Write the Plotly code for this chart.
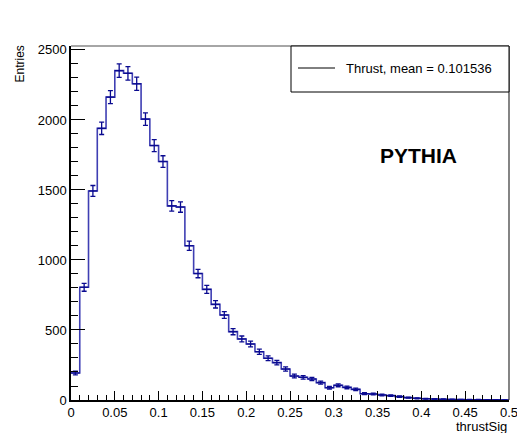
import numpy as np
import plotly.graph_objects as go

# ---- data ----
bin_width = 0.01
bin_low = [round(i * bin_width, 2) for i in range(50)]
counts = [193, 805, 1493, 1940, 2163, 2352, 2333, 2258, 2006, 1817,
          1703, 1386, 1378, 1102, 903, 790, 683, 607, 488, 436,
          400, 345, 298, 267, 221, 171, 162, 150, 124, 88,
          105, 90, 76, 45, 43, 36, 31, 24, 17, 12,
          9, 7, 5, 4, 3, 2, 2, 1, 1, 0]
x_tickvals = [0, 0.05, 0.1, 0.15, 0.2, 0.25, 0.3, 0.35, 0.4, 0.45, 0.5]
x_ticktext = ["0", "0.05", "0.1", "0.15", "0.2", "0.25", "0.3", "0.35", "0.4", "0.45", "0.5"]
y_tickvals = [0, 500, 1000, 1500, 2000, 2500]
y_ticktext = ["0", "500", "1000", "1500", "2000", "2500"]
legend_label = "Thrust, mean = 0.101536"
tag_label = "PYTHIA"

# ---- derived ----
edges = bin_low + [bin_low[-1] + bin_width]
centers = [b + bin_width / 2 for b in bin_low]
errs = np.sqrt(np.array(counts, dtype=float))
step_y = counts + [counts[-1]]

FONT = "Liberation Sans, Arial, Helvetica, sans-serif"

fig = go.Figure()
fig.add_trace(go.Scatter(
    x=edges, y=step_y, mode="lines", line_shape="hv",
    line=dict(color="rgba(15,15,160,0.8)", width=1.6),
    hoverinfo="skip", showlegend=False))
fig.add_trace(go.Scatter(
    x=centers, y=counts, mode="markers",
    marker=dict(size=1, color="#0a0a90"),
    error_y=dict(type="data", array=errs, visible=True, color="#0a0a90", thickness=1.3, width=2.5),
    error_x=dict(type="data", array=[bin_width / 2] * len(centers), visible=True, color="#0a0a90", thickness=1.3, width=0),
    showlegend=False))

W, H = 517, 433
L, R, T, B = 71, 8, 46, 33
pw, ph = W - L - R, H - T - B

def px(xp):
    return (xp - L) / pw

def py(yp):
    return (H - B - yp) / ph

fig.update_layout(
    width=W, height=H,
    margin=dict(l=L, r=R, t=T, b=B, autoexpand=False),
    paper_bgcolor="white", plot_bgcolor="white",
    font=dict(family=FONT, color="black", size=13),
    xaxis=dict(range=[0, 0.5], showgrid=False, zeroline=False, automargin=False,
               showline=True, linecolor="black", linewidth=1.5,
               ticks="inside", ticklen=9, tickwidth=1, tickcolor="black",
               tickvals=x_tickvals, ticktext=x_ticktext,
               ticklabeloverflow="allow",
               minor=dict(ticks="inside", dtick=0.01, ticklen=5, tickcolor="black", tickwidth=1),
               tickfont=dict(size=13)),
    yaxis=dict(range=[0, 2528], showgrid=False, zeroline=False, automargin=False,
               showline=True, linecolor="black", linewidth=1.5,
               ticks="inside", ticklen=14, tickwidth=1, tickcolor="black",
               tickvals=y_tickvals, ticktext=y_ticktext,
               ticklabeloverflow="allow",
               minor=dict(ticks="inside", dtick=100, ticklen=7, tickcolor="black", tickwidth=1),
               tickfont=dict(size=13)),
    shapes=[
        dict(type="line", xref="paper", yref="paper", x0=0, x1=1, y0=1, y1=1,
             line=dict(color="#888888", width=1.5)),
        dict(type="line", xref="paper", yref="paper", x0=1, x1=1, y0=0, y1=1,
             line=dict(color="#333333", width=1.2)),
        dict(type="rect", xref="paper", yref="paper", x0=px(291), x1=1.0, y0=py(92), y1=1.0,
             line=dict(color="black", width=1), fillcolor="white", layer="above"),
        dict(type="line", xref="paper", yref="paper", x0=px(298), x1=px(335), y0=py(68), y1=py(68),
             line=dict(color="black", width=1)),
    ],
    annotations=[
        dict(text=legend_label, xref="paper", yref="paper", x=px(344), y=py(68),
             xanchor="left", yanchor="middle", showarrow=False, font=dict(size=13)),
        dict(text="<b>" + tag_label + "</b>", xref="paper", yref="paper", x=px(418), y=py(155),
             xanchor="center", yanchor="middle", showarrow=False, font=dict(size=21)),
        dict(text="Entries", xref="paper", yref="paper", x=px(20), y=py(44),
             xanchor="center", yanchor="top", textangle=-90, showarrow=False, font=dict(size=12)),
        dict(text="thrustSig", xref="paper", yref="paper", x=px(509), y=py(426),
             xanchor="right", yanchor="middle", showarrow=False, font=dict(size=13)),
    ],
)

fig.write_html("out.html")
